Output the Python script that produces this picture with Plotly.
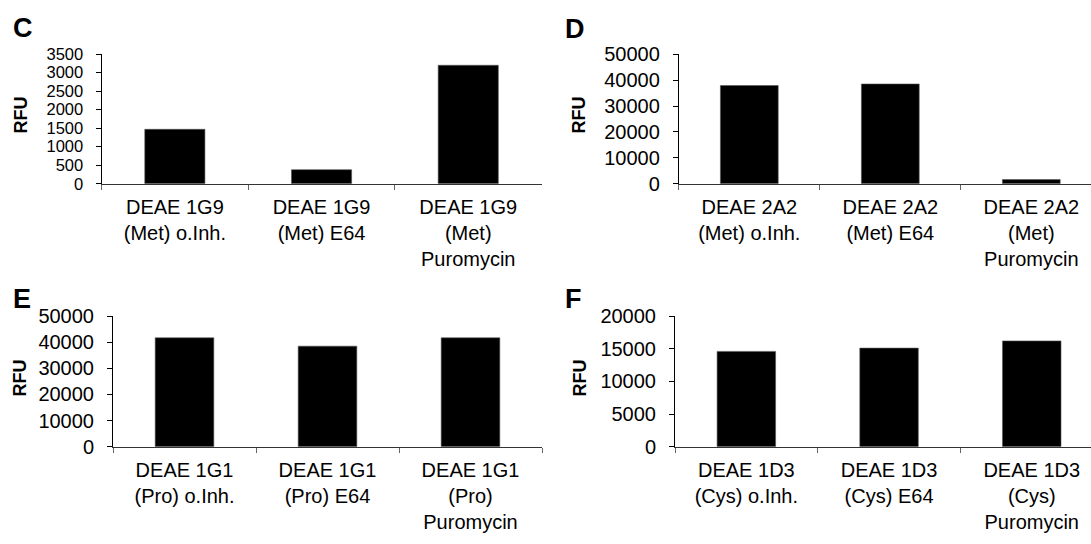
import plotly.graph_objects as go

W, H = 1091, 544

panel_letters = ["C", "D", "E", "F"]

cats_C = ["DEAE 1G9<br>(Met) o.Inh.", "DEAE 1G9<br>(Met) E64", "DEAE 1G9<br>(Met)<br>Puromycin"]
cats_D = ["DEAE 2A2<br>(Met) o.Inh.", "DEAE 2A2<br>(Met) E64", "DEAE 2A2<br>(Met)<br>Puromycin"]
cats_E = ["DEAE 1G1<br>(Pro) o.Inh.", "DEAE 1G1<br>(Pro) E64", "DEAE 1G1<br>(Pro)<br>Puromycin"]
cats_F = ["DEAE 1D3<br>(Cys) o.Inh.", "DEAE 1D3<br>(Cys) E64", "DEAE 1D3<br>(Cys)<br>Puromycin"]

vals_C = [1470, 380, 3200]
vals_D = [37900, 38500, 1600]
vals_E = [41700, 38500, 41700]
vals_F = [14600, 15100, 16200]

ymax = [3500, 50000, 50000, 20000]
ydtick = [500, 10000, 10000, 5000]
ytick_size = [16.5, 20, 20, 20]
y_title = "RFU"

# layout geometry in pixels: (axis left, axis right, top, bottom, category width)
geom = [
    (101.5, 541.5, 45, 180, 146.7),
    (678.8, 1091, 45, 180, 141.0),
    (113.0, 542.0, 318, 454, 143.0),
    (675.0, 1091, 318, 454, 142.7),
]
letter_pos = [(23, 18), (575, 19), (22, 300), (573, 300)]
rfu_pos = [(21, 109), (579, 109), (20, 383), (580, 383)]

FONT = "Liberation Sans, Arial, sans-serif"

fig = go.Figure()
all_cats = [cats_C, cats_D, cats_E, cats_F]
all_vals = [vals_C, vals_D, vals_E, vals_F]

for i in range(4):
    left, right, top, bottom, cw = geom[i]
    sfx = "" if i == 0 else str(i + 1)
    fig.add_trace(go.Bar(
        x=all_cats[i], y=all_vals[i],
        xaxis="x" + sfx, yaxis="y" + sfx,
        marker=dict(color="black", line=dict(width=0.6, color="#555555")),
        width=0.41, showlegend=False,
    ))
    xr = [-0.5, -0.5 + (right - left) / cw]
    fig.layout["xaxis" + sfx] = dict(
        domain=[left / W, right / W], anchor="y" + sfx,
        type="category", range=xr,
        showline=True, linecolor="#333333", linewidth=1,
        ticks="outside", ticklen=5, tickcolor="#666666", tickson="boundaries",
        tickfont=dict(family=FONT, size=20, color="black"),
        ticklabelstandoff=5,
        showgrid=False, zeroline=False, fixedrange=True,
    )
    fig.layout["yaxis" + sfx] = dict(
        domain=[1 - bottom / H, 1 - top / H], anchor="x" + sfx,
        range=[0, ymax[i]], dtick=ydtick[i], tick0=0, tickformat="d",
        showline=True, linecolor="black", linewidth=1,
        ticks="outside", ticklen=5, tickcolor="black",
        tickfont=dict(family=FONT, size=ytick_size[i], color="black"),
        ticklabelstandoff=9,
        showgrid=False, zeroline=False, fixedrange=True,
    )
    lx, ly = letter_pos[i]
    fig.add_annotation(text="<b>%s</b>" % panel_letters[i], x=lx / W, y=1 - ly / H,
                       xref="paper", yref="paper", showarrow=False,
                       xanchor="center", yanchor="middle",
                       font=dict(family=FONT, size=27, color="black"))
    rx, ry = rfu_pos[i]
    fig.add_annotation(text="<b>%s</b>" % y_title, x=rx / W, y=1 - ry / H,
                       xref="paper", yref="paper", showarrow=False, textangle=-90,
                       xanchor="center", yanchor="middle",
                       font=dict(family=FONT, size=18, color="black"))

fig.update_layout(
    width=W, height=H,
    margin=dict(l=0, r=0, t=0, b=0),
    paper_bgcolor="white", plot_bgcolor="white",
    bargap=0.59,
)

fig.write_html("out.html", config={"displayModeBar": False})
